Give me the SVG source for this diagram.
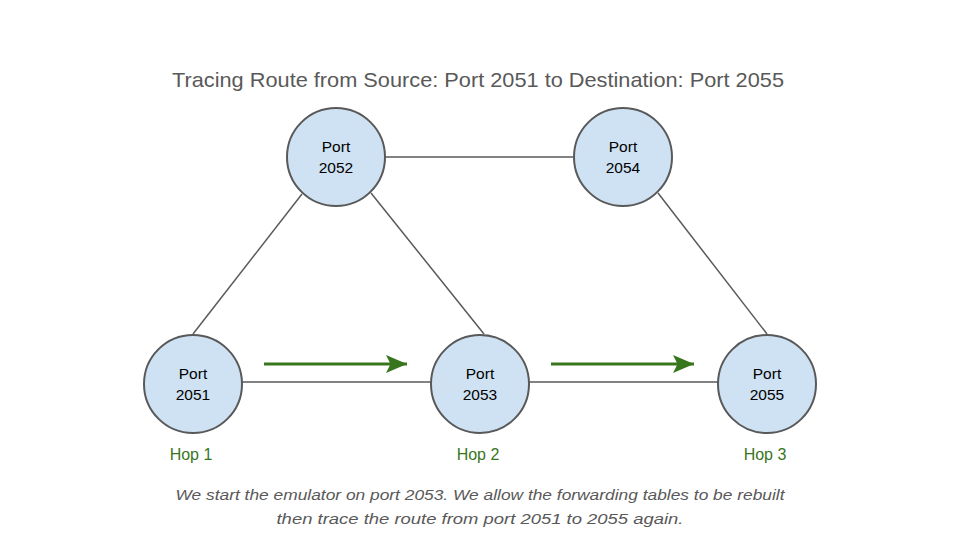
<svg xmlns="http://www.w3.org/2000/svg" width="960" height="540" viewBox="0 0 960 540">
<style>
.node circle{fill:#cfe2f3;stroke:#595959;stroke-width:2}
.node text{font-family:"Liberation Sans",Arial,sans-serif;font-size:15.5px;fill:#000;text-anchor:middle}
.edge{stroke:#595959;stroke-width:1.5;fill:none}
.flow{stroke:#38761d;stroke-width:3;fill:none}
.hop{font-family:"Liberation Sans",Arial,sans-serif;font-size:16px;fill:#38761d;text-anchor:middle}
.title{font-family:"Liberation Sans",Arial,sans-serif;font-size:21px;fill:#595959;text-anchor:middle}
.cap{font-family:"Liberation Sans",Arial,sans-serif;font-size:15.5px;font-style:italic;fill:#595959;text-anchor:middle}
</style>
<defs>
<marker id="ah" markerWidth="8" markerHeight="6" refX="7" refY="3" orient="auto" markerUnits="strokeWidth">
<path d="M0,0 L7,3 L0,6 L1.5,3 Z" fill="#38761d"/>
</marker>
</defs>
<rect width="960" height="540" fill="#fff"/>
<text class="title" x="478" y="87" textLength="612" lengthAdjust="spacingAndGlyphs">Tracing Route from Source: Port 2051 to Destination: Port 2055</text>
<g id="connectors">
<line class="edge" x1="242" y1="382" x2="431" y2="382"/>
<line class="edge" x1="529" y1="382" x2="718" y2="382"/>
<line class="edge" x1="385" y1="157" x2="574" y2="157"/>
<line class="edge" x1="302" y1="194" x2="193" y2="334"/>
<line class="edge" x1="371" y1="193" x2="484" y2="334"/>
<line class="edge" x1="658" y1="193" x2="767" y2="334"/>
<line class="flow" x1="264" y1="364" x2="407" y2="364" marker-end="url(#ah)"/>
<line class="flow" x1="551" y1="364" x2="694" y2="364" marker-end="url(#ah)"/>
</g>
<g id="n2051" class="node"><circle cx="193" cy="384" r="49"/><text x="193" y="379">Port</text><text x="193" y="400">2051</text></g>
<g id="n2052" class="node"><circle cx="336" cy="157" r="49"/><text x="336" y="152">Port</text><text x="336" y="173">2052</text></g>
<g id="n2053" class="node"><circle cx="480" cy="384" r="49"/><text x="480" y="379">Port</text><text x="480" y="400">2053</text></g>
<g id="n2054" class="node"><circle cx="623" cy="157" r="49"/><text x="623" y="152">Port</text><text x="623" y="173">2054</text></g>
<g id="n2055" class="node"><circle cx="767" cy="384" r="49"/><text x="767" y="379">Port</text><text x="767" y="400">2055</text></g>
<text class="hop" x="191" y="460">Hop 1</text>
<text class="hop" x="478" y="460">Hop 2</text>
<text class="hop" x="765" y="460">Hop 3</text>
<text class="cap" x="480" y="500" textLength="609" lengthAdjust="spacingAndGlyphs">We start the emulator on port 2053. We allow the forwarding tables to be rebuilt</text>
<text class="cap" x="480" y="524" textLength="407" lengthAdjust="spacingAndGlyphs">then trace the route from port 2051 to 2055 again.</text>
</svg>
